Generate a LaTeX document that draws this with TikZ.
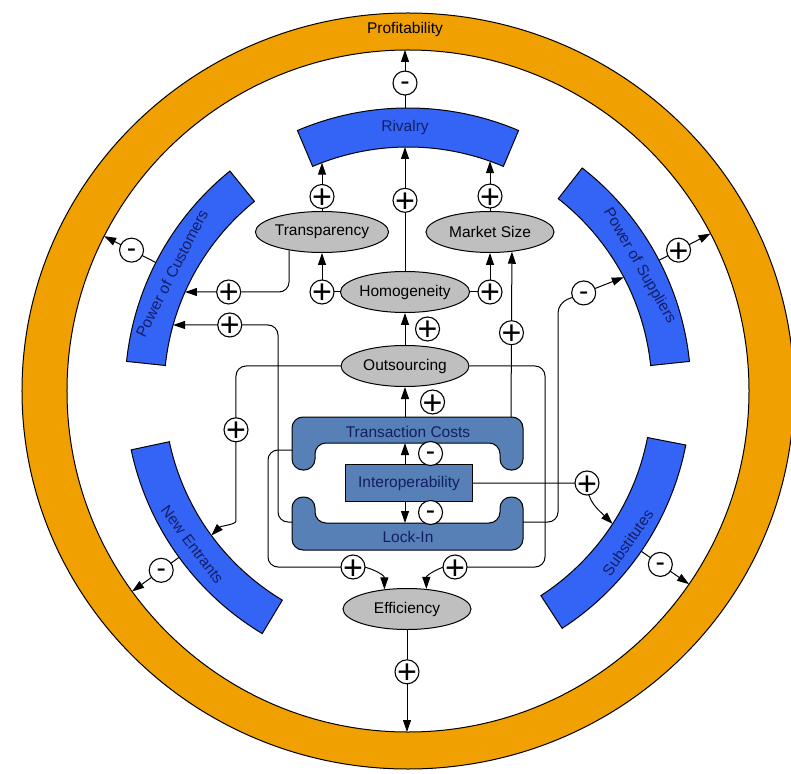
\documentclass[tikz,border=0pt]{standalone}
\usepackage{fontspec}
\setmainfont{Liberation Sans}
\usetikzlibrary{shapes.geometric,arrows.meta,positioning}
\definecolor{ringorange}{RGB}{240,160,0}
\definecolor{forceblue}{RGB}{52,100,246}
\definecolor{costblue}{RGB}{86,128,182}
\definecolor{labelblue}{RGB}{20,30,100}

\begin{document}
\begin{tikzpicture}[x=1pt,y=1pt,>={Triangle[length=12pt,width=8pt]},line width=1pt,
   every node/.style={font=\fontsize{15.5}{18}\selectfont},
   factor/.style={ellipse,draw,fill=gray!50,minimum width=128pt,minimum height=41pt,inner sep=0pt},
   sgn/.style={circle,draw,fill=white,minimum size=24pt,inner sep=-4pt,line width=1.1pt,text depth=0pt},
   plus/.style={sgn,font=\fontsize{34}{34}\selectfont,text height=24pt},
   minus/.style={sgn,font=\fontsize{28}{28}\selectfont,text height=14.5pt},
   forcetext/.style={text=labelblue},
   link/.style={->,rounded corners=10pt}]
\useasboundingbox (-408,-382) rectangle (383,391);

% market ring
\fill[ringorange,even odd rule] (0,0) ellipse [x radius=386,y radius=378] (0,0) circle [radius=341];
\draw (0,0) ellipse [x radius=386,y radius=378];
\draw (0,0) circle [radius=341];
\node (prof) at (-3,362) {Profitability};

% five forces
\foreach \a/\b in {67/113,129/174,6/52,192/239,303/349}
  \filldraw[fill=forceblue] (\a:283) arc[start angle=\a,end angle=\b,radius=283]
     -- (\b:244) arc[start angle=\b,end angle=\a,radius=244] -- cycle;
\node[forcetext] (riv) at (-3,264) {Rivalry};
\node[forcetext,rotate=63] (cust) at (153.5:264) {Power of Customers};
\node[forcetext,rotate=-60] (supp) at (28.4:263) {Power of Suppliers};
\node[forcetext,rotate=-53] (newe) at (215.5:265) {New Entrants};
\node[forcetext,rotate=55] (subs) at (-34.6:267) {Substitutes};

% factors
\node[factor] (trans) at (-86,159) {Transparency};
\node[factor] (ms) at (82,159) {Market Size};
\node[factor] (hom) at (-3,99) {Homogeneity};
\node[factor] (outs) at (-3,25) {Outsourcing};
\node[factor] (eff) at (-1,-218) {Efficiency};

% transaction costs and lock-in
\filldraw[fill=costblue,rounded corners=11pt] (0,-26) -- (115,-26) -- (115,-79) -- (92,-79) -- (92,-52)
   -- (-93,-52) -- (-93,-79) -- (-116,-79) -- (-116,-26) -- cycle;
\filldraw[fill=costblue,rounded corners=11pt] (0,-159) -- (115,-159) -- (115,-106) -- (92,-106) -- (92,-132)
   -- (-93,-132) -- (-93,-106) -- (-116,-106) -- (-116,-159) -- cycle;
\node[text=labelblue] (tc) at (0,-41) {Transaction Costs};
\node[text=labelblue] (li) at (0,-146) {Lock-In};
\node[draw,fill=costblue,minimum width=127pt,minimum height=37pt,inner sep=0pt,text=labelblue] (iop) at (1,-92) {Interoperability};

\coordinate (tcT) at (-3,-26);
\coordinate (tcR) at (103,-26);
\coordinate (tcL) at (-116,-59);
\coordinate (tcB) at (-3,-52);
\coordinate (liT) at (-3,-132);
\coordinate (liL) at (-116,-131);
\coordinate (liR) at (115,-131);
\coordinate (rivB1) at (-86,228.3);
\coordinate (rivB2) at (-3,244);
\coordinate (rivB3) at (82,229.8);
\coordinate (rivT) at (-3,283);
\coordinate (profT) at (-3,341);
\coordinate (profB) at (-1,-341);
\coordinate (custA) at (-223,99);
\coordinate (custB) at (-234.9,66);
\coordinate (neB) at (216.3:244);
\coordinate (subB) at (-33:244);
\coordinate (supB) at (27.8:244);

% links
\draw[->] (rivT) -- node[minus,pos=.43] (m1) {-} (profT);
\draw[->] (trans.north) -- node[plus,pos=.3] (p1) {+} (rivB1);
\draw[->] (hom.north) -- node[plus,pos=.57] (p2) {+} (rivB2);
\draw[->] (ms.north) -- node[plus,pos=.3] (p3) {+} (rivB3);
\draw[->] (hom.west) -| node[plus,pos=.5] (p4) {+} (trans.south);
\draw[->] (hom.east) -| node[plus,pos=.5] (p5) {+} (ms.south);
\draw[->] (outs.north) -- node[plus,right=10pt] (p6) {+} (hom.south);
\draw[->] (tcT) -- node[plus,right=15pt] (p7) {+} (outs.south);
\draw[->] (tcR) -- node[plus,pos=.51] (p8) {+} (ms.-42.7);
\draw[link] (trans.-151) |- node[plus,pos=.79] (p9) {+} (custA);
\draw[link] (liL) -- ++(-14,0) |- node[plus,pos=.73] (p10) {+} (custB);
\draw[link] (tcL) -- (-140,-59) -- (-140,-176) -- (-55,-176) node[plus] (p11) {+} to[out=0,in=90] (eff.139);
\draw[link] (outs.east) -- (137,25) -- (137,-176) -- (47,-176) node[plus] (p12) {+} to[out=180,in=90] (eff.46);
\draw[link] (outs.west) -- (-172,25) -- node[plus,pos=.44] (p13) {+} (-172,-120) to[out=-90,in=45] (neB);
\draw[->] (iop.east) -- (179,-92) node[plus] (p14) {+} to[out=-90,in=135] (subB);
\draw[link] (liR) -- (150,-131) -- (150,88) -- node[minus,pos=.39] (m6) {-} (supB);
\draw[->] (iop.north -| tcT) -- node[minus,right=13pt] (m7) {-} (tcB);
\draw[->] (iop.south -| liT) -- node[minus,right=13pt] (m8) {-} (liT);
\draw[->] (eff.south) -- node[plus,pos=.41] (p15) {+} (profB);
\draw[->] (153:283) -- node[minus,pos=.47] (m2) {-} (153:341);
\draw[->] (27.5:283) -- node[plus,pos=.38] (p16) {+} (27.5:341);
\draw[->] (216:283) -- node[minus,pos=.38] (m3) {-} (216:341);
\draw[->] (-34.5:283) -- node[minus,pos=.4] (m4) {-} (-34.5:341);
\end{tikzpicture}
\end{document}
